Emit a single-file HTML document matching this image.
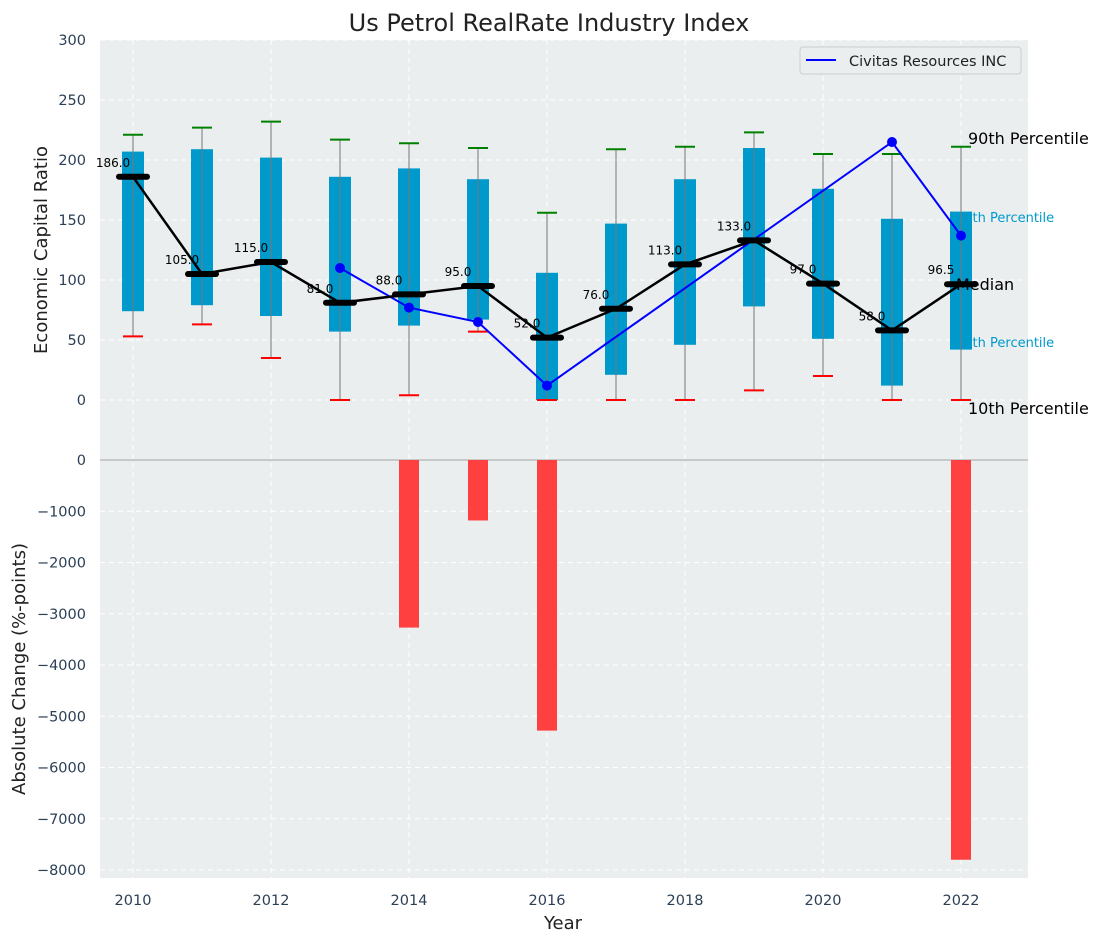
<!DOCTYPE html>
<html><head><meta charset="utf-8">
<style>
body{margin:0;background:#fff;}
svg{display:block;font-family:"DejaVu Sans","Liberation Sans",sans-serif;}
</style></head>
<body>
<svg id="chart" width="1103" height="942" xmlns="http://www.w3.org/2000/svg">
<g id="g"></g>
</svg>
<script>
const years=[2010,2011,2012,2013,2014,2015,2016,2017,2018,2019,2020,2021,2022];
const q75=[207,209,202,186,193,184,106,147,184,210,176,151,157];
const q25=[74,79,70,57,62,67,0,21,46,78,51,12,42];
const p90=[221,227,232,217,214,210,156,209,211,223,205,205,211];
const p10=[53,63,35,0,4,57,0,0,0,8,20,0,0];
const medians=[186,105,115,81,88,95,52,76,113,133,97,58,96.5];
const civYears=[2013,2014,2015,2016,2021,2022];
const civVals=[110,77,65,12,215,137];
const chgYears=[2014,2015,2016,2022];
const chgVals=[-3270,-1180,-5280,-7800];
const topTicks=[0,50,100,150,200,250,300];
const botTicks=[0,-1000,-2000,-3000,-4000,-5000,-6000,-7000,-8000];
const xTicks=[2010,2012,2014,2016,2018,2020,2022];

const L=100,R=1028;
const X=v=>133+(v-2010)*69;
const YT=v=>400-v*1.2;
const YB=v=>460-v*0.05125;
const NS="http://www.w3.org/2000/svg";
const g=document.getElementById('g');
function el(tag,attrs,name,text){const e=document.createElementNS(NS,tag);for(const k in attrs)e.setAttribute(k,attrs[k]);


if(text!==undefined)e.textContent=text;g.appendChild(e);return e;}

el('rect',{x:L,y:40,width:R-L,height:420,fill:'#eaeeef'},'top-plot-bg');
el('rect',{x:L,y:460,width:R-L,height:418,fill:'#eaeeef'},'bottom-plot-bg');
topTicks.forEach(t=>{el('line',{x1:L,x2:R,y1:YT(t),y2:YT(t),stroke:'#fff','stroke-dasharray':'5,4','stroke-width':1},'y-grid-top');
el('text',{x:86,y:YT(t)+5,'text-anchor':'end','font-size':14.5,fill:'#2b3f55'},'y-tick-top',t);});
botTicks.forEach(t=>{el('line',{x1:L,x2:R,y1:YB(t),y2:YB(t),stroke:'#fff','stroke-dasharray':'5,4','stroke-width':1},'y-grid-bottom');
el('text',{x:86,y:YB(t)+5,'text-anchor':'end','font-size':14.5,fill:'#2b3f55'},'y-tick-bottom',t===0?'0':'\u2212'+(-t));});
xTicks.forEach(t=>{el('line',{x1:X(t),x2:X(t),y1:40,y2:878,stroke:'#fff','stroke-dasharray':'5,4','stroke-width':1},'x-grid');
el('text',{x:X(t),y:905,'text-anchor':'middle','font-size':14.5,fill:'#2b3f55'},'x-tick',t);});
el('line',{x1:L,x2:R,y1:460,y2:460,stroke:'#bbbbbb','stroke-width':1.5},'zero-line');

el('text',{x:956,y:222,'font-size':13,fill:'#0099cc'},'q75-label','75th Percentile');
el('text',{x:956,y:347,'font-size':13,fill:'#0099cc'},'q25-label','25th Percentile');

years.forEach((y,i)=>{
 el('rect',{x:X(y)-11,y:YT(q75[i]),width:22,height:YT(q25[i])-YT(q75[i]),fill:'#0099cc'},'iqr-box');
 el('line',{x1:X(y),x2:X(y),y1:YT(p90[i]),y2:YT(p10[i]),stroke:'#777','stroke-width':1},'whisker');
 el('line',{x1:X(y)-10,x2:X(y)+10,y1:YT(p90[i]),y2:YT(p90[i]),stroke:'green','stroke-width':2},'p90-cap');
 el('line',{x1:X(y)-10,x2:X(y)+10,y1:YT(p10[i]),y2:YT(p10[i]),stroke:'red','stroke-width':2},'p10-cap');
});
el('polyline',{points:civYears.map((y,i)=>X(y)+','+YT(civVals[i])).join(' '),fill:'none',stroke:'blue','stroke-width':2},'civitas-line');
civYears.forEach((y,i)=>el('circle',{cx:X(y),cy:YT(civVals[i]),r:5,fill:'blue'},'civitas-point'));
el('polyline',{points:years.map((y,i)=>X(y)+','+YT(medians[i])).join(' '),fill:'none',stroke:'#000','stroke-width':2.5},'median-line');
years.forEach((y,i)=>{
 el('line',{x1:X(y)-14,x2:X(y)+14,y1:YT(medians[i]),y2:YT(medians[i]),stroke:'#000','stroke-width':6,'stroke-linecap':'round'},'median-marker');
 el('text',{x:X(y)-20,y:YT(medians[i])-10,'text-anchor':'middle','font-size':12,fill:'#000'},'median-value',medians[i].toFixed(1));
});
chgYears.forEach((y,i)=>el('rect',{x:X(y)-10,y:460,width:20,height:YB(chgVals[i])-460,fill:'#ff4040'},'change-bar'));

el('text',{x:968,y:144,'font-size':16,fill:'#000'},'p90-label','90th Percentile');
el('text',{x:956,y:290,'font-size':16,fill:'#000'},'median-label','Median');
el('text',{x:968,y:414,'font-size':16,fill:'#000'},'p10-label','10th Percentile');

el('rect',{x:800,y:47,width:221,height:27,fill:'#eaeeef',stroke:'#ccc',rx:3},'legend-box');
el('line',{x1:806,x2:836,y1:60,y2:60,stroke:'blue','stroke-width':2},'legend-line');
el('text',{x:849,y:66,'font-size':14.5,fill:'#222'},'legend-entry','Civitas Resources INC');

el('text',{x:549,y:31,'text-anchor':'middle','font-size':24,fill:'#222'},'chart-title','Us Petrol RealRate Industry Index');
el('text',{x:563,y:929,'text-anchor':'middle','font-size':18,fill:'#222'},'x-axis-title','Year');
el('text',{x:47,y:250,'text-anchor':'middle','font-size':18,fill:'#222',transform:'rotate(-90 47 250)'},'y-axis-title-top','Economic Capital Ratio');
el('text',{x:25,y:669,'text-anchor':'middle','font-size':18,fill:'#222',transform:'rotate(-90 25 669)'},'y-axis-title-bottom','Absolute Change (%-points)');
</script>
</body></html>
